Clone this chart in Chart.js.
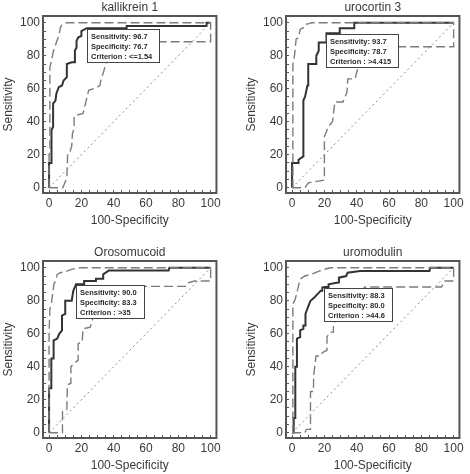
<!DOCTYPE html>
<html><head><meta charset="utf-8">
<script src="https://cdn.jsdelivr.net/npm/chart.js@4/dist/chart.umd.min.js"></script>
<style>
html,body{margin:0;padding:0;background:#fff;width:470px;height:474px;overflow:hidden;}
.p{position:absolute;width:227px;height:229px;}
canvas{display:block;}
</style></head>
<body>
<div class="p" style="left:0;top:0"><canvas id="c1" width="227" height="229"></canvas></div>
<div class="p" style="left:243px;top:0"><canvas id="c2" width="227" height="229"></canvas></div>
<div class="p" style="left:0;top:245px"><canvas id="c3" width="227" height="229"></canvas></div>
<div class="p" style="left:243px;top:245px"><canvas id="c4" width="227" height="229"></canvas></div>
<script>
// Panel titles and axis labels
const panelTitles = ['kallikrein 1', 'urocortin 3', 'Orosomucoid', 'uromodulin'];
const xAxisLabel = '100-Specificity';
const yAxisLabel = 'Sensitivity';
const majorTicks = [0, 20, 40, 60, 80, 100];
const diagonal = [[0, 0], [100, 100]];

// kallikrein 1: [100-Specificity, Sensitivity]
const k1Roc = [[0,0],[0,15],[1.5,15],[1.5,35],[2.5,37],[2.5,51],[4,53],[4.5,57],[6,61],[8,62],[9,65],[11,67],[11,75],[14,76],[16,76],[16,83],[17,85],[17,89],[18,91],[20,92],[20,95],[23.3,96.7],[48,96.7],[48,98],[97.5,98],[97.5,100],[100,100]];
const k1Upper = [[0,0],[0,20],[0.5,22],[0.5,73],[1.5,77],[2.5,82],[4.5,88],[6,92],[7,97],[8,99],[11,100],[100,100]];
const k1Lower = [[0,0],[8.5,0],[11,6],[11.5,21],[13,22],[14,25],[14.5,33],[15.5,36],[15.5,43],[17,44],[21,45],[22.5,51],[24,57],[24.5,59],[30,61],[31.5,62],[32,65],[34,71],[35,75],[38,82],[42,88.5],[100,88.5],[100,100]];
const k1Crit = [23.3, 96.7];
const k1Text = ['Sensitivity: 96.7', 'Specificity: 76.7', 'Criterion : <=1.54'];

// urocortin 3
const u3Roc = [[0,0],[0,15],[4,15],[4,17],[7,19],[7,53],[8,55],[9.5,62],[10,62],[10,75],[15,75],[15,80],[16.5,83],[16.5,88],[21.3,88],[21.3,93.7],[29.5,93.7],[29.5,96.7],[38.5,96.7],[38.5,100],[100,100]];
const u3Upper = [[0,0],[0.5,0],[0.5,75],[1.5,80],[2.5,90],[4,91],[5,96],[7,97],[8,99],[10.5,99.5],[12,100],[100,100]];
const u3Lower = [[0,0],[8,0],[10,3],[20,4.6],[20,31],[22.5,37],[25,40],[26.5,52],[31.5,52],[34,58],[34.5,66],[39,66],[40,70],[45,85.5],[100,85.5],[100,100]];
const u3Crit = [21.3, 93.7];
const u3Text = ['Sensitivity: 93.7', 'Specificity: 78.7', 'Criterion : >4.415'];

// Orosomucoid
const orRoc = [[0,0],[0,27],[1.4,27],[1.4,45],[2.8,45],[2.8,56],[5,57],[6.3,60],[8,62],[8,71],[10,72],[10,80],[14,80],[15,86],[16.7,90],[21.7,90],[21.7,92],[29,92],[29,93.3],[33.5,93.3],[33.5,96],[37,98.4],[74,98.4],[74.5,100],[100,100]];
const orUpper = [[0,0],[0,60],[0.5,75],[1.5,79],[3,90],[4,92],[5,96],[7,97],[11,98],[14,99],[18,100],[100,100]];
const orLower = [[0,0],[8.3,0],[8.3,13],[11,14],[11.3,29],[13.5,30],[13.5,40],[15.5,42],[18,44],[18,54],[20.5,55],[21,63],[25.5,64],[27,69],[30,72],[36,80],[40,88.7],[85,88.7],[86.5,91],[90,92],[100,92],[100,100]];
const orCrit = [16.7, 90.0];
const orText = ['Sensitivity: 90.0', 'Specificity: 83.3', 'Criterion : >35'];

// uromodulin
const umRoc = [[0,0],[1,0],[1,9],[2,9],[2,40],[3,40],[3,57],[5,58],[5,62],[7,63],[7,65],[8.3,65],[8.3,72],[9.4,75],[10.2,77],[11.4,80],[13.8,82],[15.7,84],[17.7,86],[18.7,86],[18.7,88],[20,88.3],[22.6,88.3],[22.6,90],[28.5,91],[29,94],[33.5,95],[34.4,97],[42,98],[85,98],[85.6,100],[100,100]];
const umUpper = [[0,0],[0.5,0],[0.5,78],[2,81],[3,85],[4.9,93],[7.9,95],[11.8,96],[16.7,98],[19.7,99],[23.6,100],[100,100]];
const umLower = [[0,0],[7.9,0],[8.9,2],[11.4,2],[11.4,25],[13.2,25],[13.4,35],[14.8,46.5],[17.7,46.5],[18.7,48.5],[21.6,50],[21.6,58],[23.6,61],[25.6,61],[25.6,66],[30,72],[38,80],[45,88.3],[92.5,88.3],[94.5,92],[100,92],[100,100]];
const umCrit = [20.0, 88.3];
const umText = ['Sensitivity: 88.3', 'Specificity: 80.0', 'Criterion : >44.6'];

const FONT = '"Liberation Sans", Arial, sans-serif';
const toPts = arr => arr.map(([x, y]) => ({x, y}));

const framePlugin = {
  id: 'frame',
  afterDatasetsDraw(chart, args, opts) {
    const {ctx, chartArea: a, scales: {x, y}} = chart;
    // criterion text box anchored at criterion point
    const px = Math.round(x.getPixelForValue(opts.crit[0]));
    const py = Math.round(y.getPixelForValue(opts.crit[1])) + 1;
    ctx.save();
    ctx.font = 'bold 7.5px ' + FONT;
    const w = Math.round(Math.max(...opts.lines.map(t => ctx.measureText(t).width)) + 11);
    const h = 33;
    ctx.fillStyle = '#fff';
    ctx.fillRect(px, py, w, h);
    ctx.strokeStyle = '#444';
    ctx.lineWidth = 1;
    ctx.strokeRect(px + 0.5, py + 0.5, w, h);
    ctx.fillStyle = '#2a2a2a';
    ctx.textBaseline = 'middle';
    ctx.textAlign = 'left';
    opts.lines.forEach((t, i) => ctx.fillText(t, px + 4, py + 7.5 + i * 10));
    // plot frame
    ctx.strokeStyle = '#555';
    ctx.lineWidth = 2;
    ctx.strokeRect(a.left, a.top, a.right - a.left, a.bottom - a.top);
    ctx.restore();
  }
};

function axis(isX) {
  return {
    type: 'linear',
    min: isX ? -3.76 : -3.2,
    max: isX ? 103.6 : 104.1,
    ticks: {
      stepSize: 5, includeBounds: false, autoSkip: false, maxRotation: 0, minRotation: 0,
      padding: 6, color: '#3a3a3a', font: {family: FONT, size: 12},
      callback: v => majorTicks.includes(v) ? String(v) : ''
    },
    grid: {drawOnChartArea: false, drawTicks: true, tickLength: -3, color: '#555', tickColor: '#555', tickWidth: 1},
    border: {display: false},
    title: {
      display: true, text: isX ? xAxisLabel : yAxisLabel, color: '#3a3a3a',
      font: {family: FONT, size: 12},
      padding: isX ? {top: 0, bottom: 1} : {top: 1, bottom: 0}
    },
    afterFit(s) { if (isX) s.height = 36; else s.width = 43; }
  };
}

function makeChart(id, title, roc, upper, lower, crit, lines) {
  const base = {pointRadius: 0, showLine: true, fill: false, tension: 0};
  new Chart(document.getElementById(id), {
    type: 'scatter',
    data: {
      datasets: [
        Object.assign({data: toPts(diagonal), borderColor: '#8c8c8c', borderWidth: 1, borderDash: [2, 3]}, base),
        Object.assign({data: toPts(lower), borderColor: '#7c7c7c', borderWidth: 1.4, borderDash: [9, 4]}, base),
        Object.assign({data: toPts(upper), borderColor: '#7c7c7c', borderWidth: 1.4, borderDash: [9, 4]}, base),
        Object.assign({data: toPts(roc), borderColor: '#333', borderWidth: 2}, base)
      ]
    },
    options: {
      responsive: false, animation: false, devicePixelRatio: 1,
      layout: {padding: {left: 0, right: 4, top: 0, bottom: 0}},
      plugins: {
        legend: {display: false}, tooltip: {enabled: false},
        title: {display: true, text: title, fullSize: false, color: '#3a3a3a',
          font: {family: FONT, size: 12, weight: 'normal'}, padding: {top: 0, bottom: 1.6}},
        frame: {crit, lines}
      },
      scales: {x: axis(true), y: axis(false)}
    },
    plugins: [framePlugin]
  });
}

makeChart('c1', panelTitles[0], k1Roc, k1Upper, k1Lower, k1Crit, k1Text);
makeChart('c2', panelTitles[1], u3Roc, u3Upper, u3Lower, u3Crit, u3Text);
makeChart('c3', panelTitles[2], orRoc, orUpper, orLower, orCrit, orText);
makeChart('c4', panelTitles[3], umRoc, umUpper, umLower, umCrit, umText);
</script>
</body></html>
